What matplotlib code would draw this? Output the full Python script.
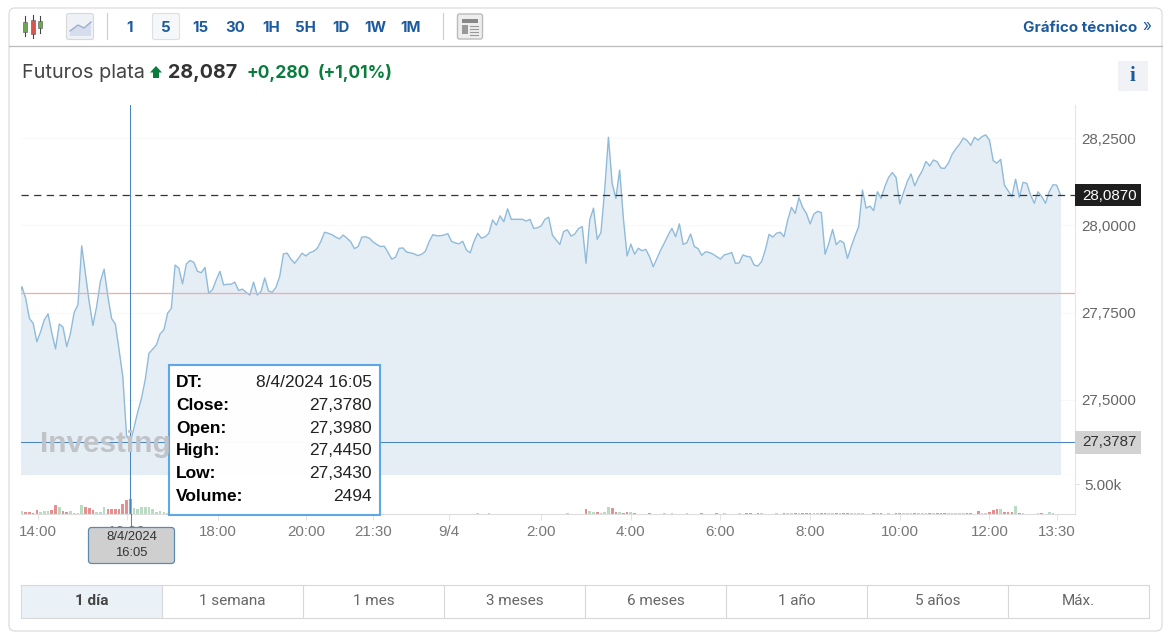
import numpy as np
from matplotlib import pyplot as plt
from matplotlib.patches import Rectangle, FancyBboxPatch, Polygon

plt.rcParams['font.family'] = ['Liberation Sans', 'DejaVu Sans']
plt.rcParams['lines.scale_dashes'] = False

# 5 minute closes
close = [
    27.787, 27.824, 27.791, 27.733, 27.719, 27.666, 27.695, 27.729, 27.746, 27.691,
    27.646, 27.717, 27.708, 27.652, 27.691, 27.751, 27.772, 27.941, 27.862, 27.781,
    27.713, 27.767, 27.839, 27.874, 27.796, 27.733, 27.717, 27.643, 27.566, 27.398,
    27.378, 27.420, 27.465, 27.504, 27.557, 27.633, 27.645, 27.657, 27.689, 27.700,
    27.748, 27.762, 27.886, 27.877, 27.832, 27.889, 27.899, 27.894, 27.868, 27.864,
    27.879, 27.805, 27.815, 27.843, 27.868, 27.829, 27.831, 27.831, 27.837, 27.813,
    27.817, 27.808, 27.800, 27.837, 27.800, 27.810, 27.849, 27.812, 27.808, 27.822,
    27.853, 27.918, 27.920, 27.903, 27.891, 27.905, 27.920, 27.912, 27.921, 27.925,
    27.933, 27.953, 27.980, 27.977, 27.973, 27.966, 27.961, 27.972, 27.963, 27.953,
    27.933, 27.939, 27.966, 27.967, 27.963, 27.952, 27.945, 27.939, 27.940, 27.922,
    27.903, 27.908, 27.934, 27.935, 27.923, 27.921, 27.918, 27.913, 27.917, 27.925,
    27.953, 27.973, 27.970, 27.970, 27.972, 27.976, 27.954, 27.949, 27.947, 27.954,
    27.929, 27.921, 27.953, 27.977, 27.963, 27.967, 27.977, 28.015, 28.000, 28.027,
    28.010, 28.047, 28.017, 28.017, 28.017, 28.017, 28.012, 28.017, 27.991, 27.993,
    27.998, 28.017, 28.023, 27.972, 27.958, 27.945, 27.982, 27.987, 27.969, 27.975,
    27.991, 27.996, 27.891, 28.015, 28.049, 27.960, 27.979, 28.101, 28.252, 28.120,
    28.077, 28.158, 28.020, 27.912, 27.946, 27.917, 27.934, 27.927, 27.931, 27.910,
    27.881, 27.905, 27.929, 27.950, 27.972, 27.991, 27.967, 28.004, 27.945, 27.950,
    27.975, 27.939, 27.933, 27.914, 27.924, 27.922, 27.917, 27.910, 27.903, 27.915,
    27.918, 27.922, 27.891, 27.892, 27.915, 27.911, 27.909, 27.886, 27.883, 27.896,
    27.929, 27.974, 27.966, 27.977, 27.980, 27.967, 28.015, 28.051, 28.034, 28.079,
    28.051, 28.034, 28.004, 28.032, 28.040, 28.036, 27.917, 27.948, 27.988, 27.944,
    27.956, 27.950, 27.905, 27.939, 27.969, 27.996, 28.101, 28.049, 28.055, 28.042,
    28.096, 28.077, 28.111, 28.137, 28.151, 28.137, 28.061, 28.094, 28.125, 28.147,
    28.113, 28.137, 28.156, 28.183, 28.170, 28.187, 28.182, 28.164, 28.163, 28.178,
    28.203, 28.219, 28.232, 28.250, 28.243, 28.229, 28.252, 28.244, 28.254, 28.259,
    28.244, 28.185, 28.178, 28.189, 28.115, 28.099, 28.082, 28.132, 28.080, 28.123,
    28.120, 28.087, 28.063, 28.096, 28.082, 28.063, 28.096, 28.116, 28.115, 28.087,
]
volume = [
    0, 440, 330, 280, 110, 720, 330, 440, 440, 660,
    1540, 1220, 500, 390, 440, 110, 110, 1500, 1100, 1000,
    610, 280, 330, 1100, 830, 830, 890, 830, 1650, 2300,
    2494, 1000, 830, 1100, 1100, 1100, 780, 330, 500, 330,
    160, 120, 180, 140, 110, 170, 130, 150, 120, 160,
    140, 110, 130, 170, 120, 150, 140, 110, 160, 130,
    120, 140, 110, 150, 130, 120, 160, 110, 140, 120,
    150, 110, 130, 120, 140, 110, 100, 130, 120, 110,
    140, 100, 120, 110, 130, 100, 110, 120, 100, 130,
    110, 100, 120, 100, 110, 100, 90, 60, 30, 20,
    60, 30, 20, 20, 40, 20, 30, 20, 20, 30,
    20, 20, 40, 30, 20, 20, 30, 20, 20, 30,
    20, 30, 60, 110, 60, 40, 110, 60, 30, 20,
    20, 30, 20, 20, 20, 30, 50, 20, 20, 30,
    20, 30, 20, 20, 30, 50, 20, 90, 20, 20,
    30, 40, 780, 500, 330, 280, 220, 330, 1100, 950,
    390, 280, 220, 390, 280, 220, 30, 20, 30, 110,
    60, 40, 30, 110, 60, 100, 70, 30, 20, 110,
    40, 30, 80, 110, 40, 30, 20, 90, 30, 100,
    30, 20, 30, 100, 60, 120, 110, 60, 100, 120,
    50, 40, 80, 90, 70, 100, 110, 170, 120, 110,
    190, 220, 110, 170, 110, 130, 140, 110, 170, 190,
    220, 110, 170, 100, 110, 170, 100, 60, 80, 170,
    220, 110, 50, 90, 40, 170, 170, 220, 110, 170,
    140, 170, 110, 140, 110, 110, 170, 170, 170, 220,
    170, 170, 110, 110, 170, 110, 60, 550, 110, 110,
    280, 670, 890, 780, 280, 330, 280, 1330, 170, 110,
    60, 60, 60, 220, 110, 60, 280, 220, 60, 60,
]
bars = np.arange(len(close))

tick_bars = [5.4, 29, 53.5, 77, 95, 115.3, 140, 164, 188, 212, 236, 260, 278]
tick_labels = ['14:00', '16:00', '18:00', '20:00', '21:30', '9/4', '2:00', '4:00',
               '6:00', '8:00', '10:00', '12:00', '13:30']
price_ticks = [27.5, 27.75, 28.0, 28.25]
price_labels = ['27,5000', '27,7500', '28,0000', '28,2500']

last_price = 28.087
prev_close = 27.807
cross_bar = 30
cross_price = 27.3787

tooltip_names = ['DT:', 'Close:', 'Open:', 'High:', 'Low:', 'Volume:']
tooltip_values = ['8/4/2024 16:05', '27,3780', '27,3980', '27,4450', '27,3430', '2494']
intervals = ['1', '5', '15', '30', '1H', '5H', '1D', '1W', '1M']
ranges = ['1 día', '1 semana', '1 mes', '3 meses', '6 meses', '1 año', '5 años', 'Máx.']

BLUE = '#1b5a9e'
GREEN = '#0a7c3e'
W, H = 1170, 640


def px_axes(fig, left, top, right, bottom, **kw):
    return fig.add_axes([left / W, 1 - bottom / H, (right - left) / W, (bottom - top) / H], **kw)


fig = plt.figure(figsize=(11.7, 6.4), dpi=100)

# price panel
ax = px_axes(fig, 21, 105, 1075, 475)
ax.set_xlim(0.75, 282.9)
ax.set_ylim(27.2844, 28.3446)
ax.fill_between(bars, close, 27.2844, color='#e5eef5', lw=0)
ax.plot(bars, close, color='#8fbbd9', lw=1.0)
ax.axhline(prev_close, color='#f5a8a8', lw=0.9)
ax.axhline(last_price, color='#333333', lw=0.9, dashes=(5.2, 3.9))
ax.axhline(cross_price, color='#4a86bd', lw=0.75)
ax.axvline(cross_bar, color='#4a86bd', lw=0.75)
ax.set_yticks(price_ticks, price_labels)
ax.grid(axis='y', color='#f8f8f8', lw=0.7)
ax.set_axisbelow(True)
ax.yaxis.tick_right()
ax.tick_params(axis='y', length=0, pad=4.5, labelsize=10.9, labelcolor='#666666')
ax.tick_params(axis='x', length=0, labelbottom=False)
for s in ['top', 'left']:
    ax.spines[s].set_visible(False)
ax.spines['right'].set_color('#e6e6e6')
ax.spines['bottom'].set_color('#cccccc')

# volume panel
vax = px_axes(fig, 21, 475, 1075, 514)
vax.set_xlim(0.75, 282.9)
vax.set_ylim(0, 6500)
changes = np.diff(close, prepend=close[0])
vol_colors = ['#b7dcc2' if c > 0 else '#e68f90' for c in changes]
vax.bar(bars, volume, width=0.72, color=vol_colors, lw=0)
vax.axvline(cross_bar, color='#4a86bd', lw=0.75)
vax.set_xticks(tick_bars, tick_labels)
vax.set_yticks([5000], ['5.00k'])
vax.yaxis.tick_right()
vax.tick_params(axis='y', length=3, color='#dddddd', width=0.7, pad=3.5, labelsize=10.9, labelcolor='#666666')
vax.tick_params(axis='x', length=4, color='#e4e4e4', width=0.7, pad=4, labelsize=10.9, labelcolor='#777777')
for s in ['top', 'left']:
    vax.spines[s].set_visible(False)
vax.spines['right'].set_color('#e6e6e6')
vax.spines['bottom'].set_color('#dddddd')

# everything around the plot, in pixels
ov = fig.add_axes([0, 0, 1, 1], zorder=5)
ov.set_xlim(0, W)
ov.set_ylim(H, 0)
ov.axis('off')
ov.patch.set_alpha(0)

ov.add_patch(FancyBboxPatch((9, 8), 1153, 623, boxstyle='round,pad=0,rounding_size=6',
                            fc='none', ec='#dcdcdc', lw=0.9))
ov.plot([9, 1162], [45.5, 45.5], color='#bbbbbd', lw=0.9)
for x in [106.5, 442.5]:
    ov.plot([x, x], [13, 39], color='#cccccc', lw=0.8)

# toolbar icons
for x, y0, y1, b0, b1, c in [(25, 16, 36, 22, 32, '#6aa84f'), (32.5, 15, 38, 20, 34, '#d9534f'),
                             (40, 16, 33, 21, 28, '#6aa84f')]:
    ov.plot([x, x], [y0, y1], color='#444444', lw=0.8)
    ov.add_patch(Rectangle((x - 2, b0), 4, b1 - b0, fc=c, ec='#555555', lw=0.4, zorder=3))
ov.add_patch(FancyBboxPatch((66.5, 13.5), 27, 26, boxstyle='round,pad=0,rounding_size=2',
                            fc='#eef1f6', ec='#d8d8d8', lw=0.8))
ov.add_patch(Polygon([(70, 36), (70, 31), (78, 25), (84, 28), (91, 22), (91, 36)], fc='#d6deee', ec='none'))
ov.plot([70, 78, 84, 91], [31, 25, 28, 22], color='#98a8c8', lw=0.9)
ov.add_patch(FancyBboxPatch((152.5, 13.5), 27, 26, boxstyle='round,pad=0,rounding_size=2',
                            fc='#f5f7f9', ec='#dcdfe3', lw=0.8))
for label, x in zip(intervals, [130, 166, 200.5, 235.5, 271, 305, 341, 375.5, 411]):
    ov.text(x, 27.5, label, ha='center', va='center', family='Inter', weight='bold',
            fontsize=10.8, color=BLUE)
ov.add_patch(FancyBboxPatch((457.5, 14), 25, 25, boxstyle='round,pad=0,rounding_size=2',
                            fc='#eeeeee', ec='#bbbbbb', lw=1))
ov.add_patch(Rectangle((462, 19), 16, 4, fc='#888888', ec='none'))
ov.add_patch(Rectangle((462, 25), 6, 9, fc='#999999', ec='none'))
for y in [26, 29, 32, 34.5]:
    ov.plot([470, 478], [y, y], color='#999999', lw=0.8)
ov.text(1137, 27.5, 'Gráfico técnico', ha='right', va='center', family='Inter', weight='bold',
        fontsize=10.9, color=BLUE)
ov.text(1147, 26, '»', ha='center', va='center', family='Inter', fontsize=11, color=BLUE)

# title line
ov.text(22, 73.5, 'Futuros plata', ha='left', va='center', family='Inter', fontsize=14.3, color='#444444')
ov.add_patch(Polygon([(156, 66), (162, 72.5), (159, 72.5), (159, 78), (153, 78), (153, 72.5), (150, 72.5)],
                     fc=GREEN, ec='none'))
ov.text(168, 73, '28,087', ha='left', va='center', family='Inter', weight='bold', fontsize=14.2, color='#333333')
ov.text(246, 73, '+0,280', ha='left', va='center', family='Inter', weight='bold', fontsize=12.6, color=GREEN)
ov.text(317.5, 73, '(+1,01%)', ha='left', va='center', family='Inter', weight='bold', fontsize=12.5, color=GREEN)
ov.add_patch(Rectangle((1118, 61), 30, 30, fc='#f0f2f5', ec='none'))
ov.text(1132.5, 76, 'i', ha='center', va='center', family='Liberation Serif', weight='bold',
        fontsize=15, color=BLUE)

# watermark, tooltip and crosshair labels
ov.text(40, 444, 'Investing', ha='left', va='center', weight='bold', fontsize=21.4, color='#c0c4c8')
ov.add_patch(Rectangle((168.5, 364.5), 211, 150, fc='white', ec='#5aa5e6', lw=1.5, alpha=0.97))
for i, (name, value) in enumerate(zip(tooltip_names, tooltip_values)):
    y = 382.5 + i * 22.8
    ov.text(176, y, name, ha='left', va='center', weight='bold', fontsize=12.5, color='black')
    ov.text(372, y, value, ha='right', va='center', fontsize=12.5, color='#222222')

ov.add_patch(Rectangle((1075, 184), 66, 22, fc='#1e1e1e', ec='none'))
ov.text(1109.5, 195.5, '28,0870', ha='center', va='center', fontsize=10.9, color='white')
ov.add_patch(Rectangle((1075, 431), 66, 23, fc='#d2d2d2', ec='none'))
ov.text(1109.5, 442.5, '27,3787', ha='center', va='center', fontsize=10.9, color='#333333')

ov.plot([130.5, 130.5], [514, 527], color='#4a86bd', lw=0.75)
ov.add_patch(FancyBboxPatch((88.5, 527.5), 86, 36, boxstyle='round,pad=0,rounding_size=3',
                            fc='#cfcfcf', ec='#5b8bb0', lw=0.9))
ov.text(131.5, 536.5, '8/4/2024', ha='center', va='center', fontsize=9.4, color='#333333')
ov.text(131.5, 552.5, '16:05', ha='center', va='center', fontsize=9.4, color='#333333')

# range selector
cell = (1149 - 21) / len(ranges)
ov.add_patch(Rectangle((21, 584.5), cell, 33, fc='#eaf1f7', ec='none'))
ov.add_patch(Rectangle((21, 584.5), 1128, 33, fc='none', ec='#d8d8d8', lw=0.8))
for i, label in enumerate(ranges):
    if i:
        ov.plot([21 + i * cell] * 2, [584.5, 617.5], color='#d8d8d8', lw=0.8)
    ov.text(21 + (i + 0.5) * cell, 601, label, ha='center', va='center', family='Roboto',
            fontsize=11, weight='bold' if i == 0 else 'normal', color='#444444' if i == 0 else '#666666')

fig.savefig('out.png', dpi=100)
